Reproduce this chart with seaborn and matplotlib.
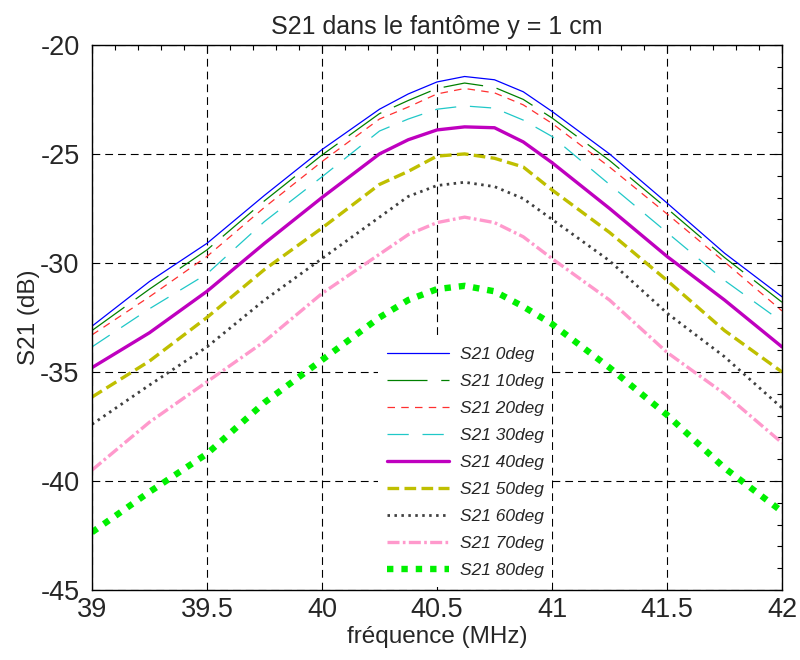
import numpy as np
import pandas as pd
import matplotlib
matplotlib.use('Agg')
import matplotlib.pyplot as plt
from matplotlib.ticker import MultipleLocator
import seaborn as sns

# values (dB), one list per angle
freq = [39.0, 39.25, 39.5, 39.75, 40.0, 40.25, 40.375, 40.5, 40.62, 40.75, 40.875,
        41.0, 41.25, 41.5, 41.75, 42.0]

s21_0 = [-32.9, -30.85, -29.1, -26.9, -24.8, -22.95, -22.25, -21.7, -21.45, -21.6, -22.15,
         -23.05, -25.0, -27.25, -29.55, -31.55]
s21_10 = [-33.1, -31.2, -29.4, -27.15, -25.05, -23.15, -22.55, -22.0, -21.75, -21.95, -22.5,
          -23.35, -25.3, -27.5, -29.75, -31.8]
s21_20 = [-33.3, -31.55, -29.7, -27.45, -25.35, -23.4, -22.85, -22.25, -22.0, -22.2, -22.75,
          -23.6, -25.6, -27.75, -29.95, -32.2]
s21_30 = [-33.85, -32.1, -30.5, -28.1, -26.05, -23.95, -23.4, -22.95, -22.8, -22.9, -23.45,
          -24.2, -26.4, -28.6, -30.8, -32.7]
s21_40 = [-34.8, -33.2, -31.3, -29.1, -27.0, -25.0, -24.35, -23.9, -23.76, -23.8, -24.45,
          -25.4, -27.5, -29.7, -31.7, -33.85]
s21_50 = [-36.15, -34.5, -32.5, -30.3, -28.4, -26.4, -25.8, -25.1, -25.0, -25.2, -25.6,
          -26.65, -28.6, -30.8, -33.1, -35.0]
s21_60 = [-37.4, -35.6, -33.85, -31.7, -29.8, -27.9, -26.95, -26.45, -26.3, -26.5, -27.05,
          -28.0, -29.9, -32.3, -34.3, -36.65]
s21_70 = [-39.5, -37.3, -35.45, -33.6, -31.4, -29.6, -28.7, -28.15, -27.9, -28.15, -28.8,
          -29.8, -31.7, -34.1, -36.0, -38.25]
s21_80 = [-42.35, -40.5, -38.75, -36.4, -34.45, -32.5, -31.7, -31.2, -31.05, -31.3, -32.0,
          -32.8, -34.8, -36.97, -39.4, -41.4]

labels = ['S21 0deg', 'S21 10deg', 'S21 20deg', 'S21 30deg', 'S21 40deg',
          'S21 50deg', 'S21 60deg', 'S21 70deg', 'S21 80deg']
series = [s21_0, s21_10, s21_20, s21_30, s21_40, s21_50, s21_60, s21_70, s21_80]

# colour, width, line style for each curve
styles = [
    ('#0000ff', 0.9, '-'),
    ('#008000', 0.9, (0, (32, 11))),
    ('#ff3030', 0.9, (0, (6, 5))),
    ('#20c8c8', 0.9, (0, (17, 11))),
    ('#bf00bf', 2.4, '-'),
    ('#bfbf00', 2.4, (0, (3.5, 1.6))),
    ('#404040', 2.0, (0, (0.9, 1.6))),
    ('#ff99cc', 2.4, (0, (3.6, 1.0, 0.8, 1.0))),
    ('#00f000', 4.6, (0, (1.0, 1.25))),
]

sns.set_style('white')
plt.rcParams['font.family'] = ['Liberation Sans', 'DejaVu Sans']

fig = plt.figure(figsize=(8, 6.6), dpi=100)
ax = fig.add_axes([0.115, 0.106, 0.8625, 0.826])

for lab, vals, (col, lw, ls) in zip(labels, series, styles):
    df = pd.DataFrame({'f': freq, 's21': vals})
    sns.lineplot(data=df, x='f', y='s21', ax=ax, color=col, linewidth=lw,
                 linestyle=ls, label=lab, estimator=None, sort=False)

ax.set_xlim(39, 42)
ax.set_ylim(-45, -20)
ax.xaxis.set_major_locator(MultipleLocator(0.5))
ax.xaxis.set_minor_locator(MultipleLocator(0.1))
ax.yaxis.set_major_locator(MultipleLocator(5))
ax.yaxis.set_minor_locator(MultipleLocator(1))
ax.set_xticklabels([f'{v:g}' for v in ax.get_xticks()])
ax.set_yticklabels([f'{int(v)}' for v in ax.get_yticks()])

ax.tick_params(which='both', direction='in', top=True, right=True, labelsize=19.5,
               color='black', width=0.8)
ax.tick_params(which='major', length=6)
ax.tick_params(which='minor', length=3.5)
ax.tick_params(axis='x', which='major', pad=5)
ax.tick_params(axis='y', which='major', pad=9)
for sp in ax.spines.values():
    sp.set_color('black')
    sp.set_linewidth(1.0)

ax.grid(True, which='major', color='black', linewidth=0.8, linestyle=(0, (7, 4.5)))

ax.set_title('S21 dans le fantôme y = 1 cm', fontsize=18, pad=8)
ax.set_xlabel('fréquence (MHz)', fontsize=17.5, labelpad=2)
ax.set_ylabel('S21 (dB)', fontsize=17.5, labelpad=0)

leg = ax.legend(loc='center', bbox_to_anchor=(0.5406, 0.234),
                prop={'style': 'italic', 'size': 12.5}, handlelength=3.6,
                handletextpad=0.6, labelspacing=0.68, borderpad=0.5,
                frameon=True, fancybox=False, framealpha=1.0,
                facecolor='white', edgecolor='none')

fig.savefig('out.png', dpi=100)
